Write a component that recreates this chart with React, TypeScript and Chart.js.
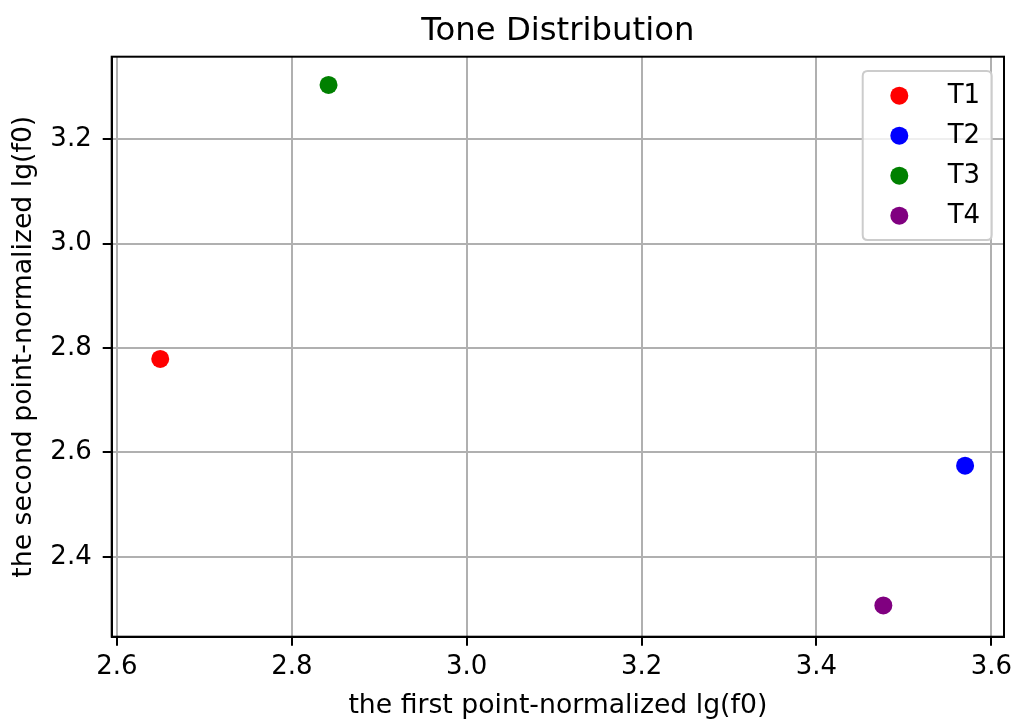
import React, { useEffect, useRef } from "react";
import { Chart, registerables } from "chart.js";

Chart.register(...registerables);

const seriesLabels = ["T1", "T2", "T3", "T4"];
const seriesColors = ["#ff0000", "#0000ff", "#008000", "#800080"];
const xValues = [2.6495, 3.570, 2.842, 3.4765];
const yValues = [2.779, 2.5745, 3.304, 2.307];
const xTicks = [2.6, 2.8, 3.0, 3.2, 3.4, 3.6];
const yTicks = [2.4, 2.6, 2.8, 3.0, 3.2];

const FONT = "'DejaVu Sans', sans-serif";

export default function App() {
  const ref = useRef<HTMLCanvasElement | null>(null);

  useEffect(() => {
    if (!ref.current) return;
    const framePlugin = {
      id: "frameAndLegend",
      afterDraw(chart: any) {
        const { ctx, chartArea } = chart;
        const { left, right, top, bottom } = chartArea;
        ctx.save();
        // spines
        ctx.strokeStyle = "#000000";
        ctx.lineWidth = 2;
        ctx.strokeRect(left, top, right - left, bottom - top);
        // title
        ctx.fillStyle = "#000000";
        ctx.font = `32.3px ${FONT}`;
        ctx.textAlign = "center";
        ctx.textBaseline = "alphabetic";
        ctx.fillText("Tone Distribution", (left + right) / 2, 40);
        // legend
        const bw = 129;
        const bh = 169;
        const bx = right - 12.3 - bw;
        const by = top + 14.3;
        ctx.beginPath();
        const r = 5;
        ctx.moveTo(bx + r, by);
        ctx.lineTo(bx + bw - r, by);
        ctx.quadraticCurveTo(bx + bw, by, bx + bw, by + r);
        ctx.lineTo(bx + bw, by + bh - r);
        ctx.quadraticCurveTo(bx + bw, by + bh, bx + bw - r, by + bh);
        ctx.lineTo(bx + r, by + bh);
        ctx.quadraticCurveTo(bx, by + bh, bx, by + bh - r);
        ctx.lineTo(bx, by + r);
        ctx.quadraticCurveTo(bx, by, bx + r, by);
        ctx.closePath();
        ctx.fillStyle = "rgba(255,255,255,0.8)";
        ctx.fill();
        ctx.strokeStyle = "#cccccc";
        ctx.lineWidth = 2;
        ctx.stroke();
        chart.data.datasets.forEach((ds: any, i: number) => {
          const cy = by + 24.7 + i * 40;
          ctx.beginPath();
          ctx.arc(bx + 36.6, cy, 9, 0, Math.PI * 2);
          ctx.fillStyle = ds.backgroundColor;
          ctx.fill();
          ctx.fillStyle = "#000000";
          ctx.font = `26px ${FONT}`;
          ctx.textAlign = "left";
          ctx.textBaseline = "middle";
          ctx.fillText(ds.label, bx + 85, cy + 1);
        });
        ctx.restore();
      },
    };

    const chart = new Chart(ref.current, {
      type: "scatter",
      data: {
        datasets: seriesLabels.map((label, i) => ({
          label,
          data: [{ x: xValues[i], y: yValues[i] }],
          backgroundColor: seriesColors[i],
          borderWidth: 0,
          pointRadius: 9,
          pointHoverRadius: 9,
        })),
      },
      options: {
        animation: false,
        responsive: false,
        devicePixelRatio: 1,
        events: [],
        layout: { padding: { top: 56.7, right: 9, left: 0, bottom: 0 } },
        plugins: {
          legend: { display: false },
          title: { display: false },
          tooltip: { enabled: false },
        },
        scales: {
          x: {
            type: "linear",
            min: 2.594,
            max: 3.6145,
            afterBuildTicks: (s: any) => {
              s.ticks = xTicks.map((v) => ({ value: v }));
            },
            afterFit: (s: any) => {
              s.height = 82.3;
              s.paddingLeft = 0;
              s.paddingRight = 0;
            },
            ticks: {
              font: { family: FONT, size: 26 },
              color: "#000000",
              padding: 6,
              maxRotation: 0,
              autoSkip: false,
              includeBounds: false,
              callback: (v: any) => Number(v).toFixed(1),
            },
            grid: {
              color: "#b0b0b0",
              lineWidth: 2,
              tickLength: 9,
              tickColor: "#000000",
              tickWidth: 2,
            },
            border: { display: true, color: "#000000", width: 2 },
            title: {
              display: true,
              text: "the first point-normalized lg(f0)",
              font: { family: FONT, size: 26.7 },
              color: "#000000",
              padding: { top: 0, bottom: -3 },
            },
          },
          y: {
            type: "linear",
            min: 2.247,
            max: 3.358,
            afterBuildTicks: (s: any) => {
              s.ticks = yTicks.map((v) => ({ value: v }));
            },
            afterFit: (s: any) => {
              s.width = 111.7;
              s.paddingTop = 0;
              s.paddingBottom = 0;
            },
            ticks: {
              font: { family: FONT, size: 26 },
              color: "#000000",
              padding: 11,
              autoSkip: false,
              includeBounds: false,
              callback: (v: any) => Number(v).toFixed(1),
            },
            grid: {
              color: "#b0b0b0",
              lineWidth: 2,
              tickLength: 9,
              tickColor: "#000000",
              tickWidth: 2,
            },
            border: { display: true, color: "#000000", width: 2 },
            title: {
              display: true,
              text: "the second point-normalized lg(f0)",
              font: { family: FONT, size: 26.7 },
              color: "#000000",
              padding: { top: 8, bottom: 0 },
            },
          },
        },
      },
      plugins: [framePlugin],
    } as any);
    return () => chart.destroy();
  }, []);

  return (
    <div style={{ position: "absolute", left: 0, top: 0, width: 1013, height: 719, background: "#ffffff" }}>
      <canvas ref={ref} width={1013} height={719} style={{ display: "block", width: 1013, height: 719 }} />
    </div>
  );
}
